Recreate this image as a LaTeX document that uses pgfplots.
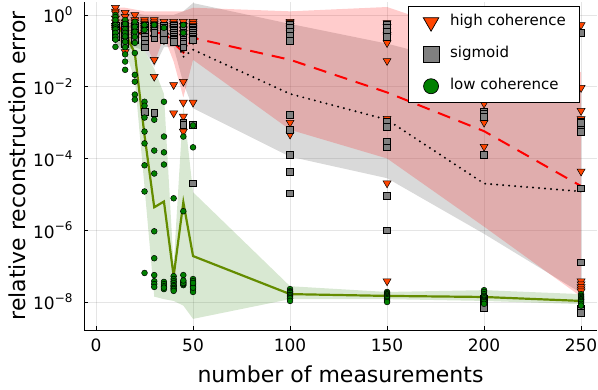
\documentclass[border=0pt]{standalone}
\usepackage{fontspec}
\setmainfont{DejaVu Sans}
\usepackage{pgfplots}
\pgfplotsset{compat=1.18}
\usepgfplotslibrary{fillbetween}
\definecolor{hcol}{RGB}{255,69,0}
\definecolor{scol}{RGB}{128,128,128}
\definecolor{lcol}{RGB}{0,128,0}
\definecolor{gline}{RGB}{100,140,0}
\definecolor{gband}{RGB}{60,140,30}
\newcommand{\yl}[1]{10\raisebox{0.42em}{\fontsize{12bp}{12bp}\selectfont #1}}
\begin{document}
\begin{tikzpicture}
\begin{axis}[
  at={(0,0)}, anchor=south west,
  scale only axis, width=513bp, height=328bp,
  xmin=-6.2, xmax=258.2, ymin=-8.78, ymax=0.36,
  axis lines*=left,
  axis line style={line width=0.8bp, black},
  tick align=inside,
  major tick length=4bp,
  tick style={line width=0.6bp, black},
  xtick={0,50,100,150,200,250},
  xticklabels={0,50,100,150,200,250},
  ytick={-8,-6,-4,-2,0},
  yticklabels={\yl{−8},\yl{−6},\yl{−4},\yl{−2},\yl{0}},
  grid=major,
  major grid style={line width=0.8bp, black, opacity=0.1},
  ticklabel style={font=\fontsize{17bp}{20bp}\selectfont},
  xticklabel style={yshift=-5bp},
  yticklabel style={xshift=-8bp},
  xlabel={number of measurements},
  ylabel={relative reconstruction error},
  label style={font=\fontsize{22bp}{26bp}\selectfont},
  xlabel style={at={(axis description cs:0.5,0)}, anchor=base, yshift=-52bp},
  ylabel style={at={(axis description cs:-0.115,0.5)}, anchor=base},
  clip=false,
  legend image code/.code={\path[draw=none,fill=none] (-11bp,-9bp) rectangle (17bp,9bp); \draw[#1] plot coordinates {(0bp,0bp)};},
  legend cell align=left,
  legend style={at={(0.9669,0.988)}, anchor=north east, draw=black, line width=0.6bp, fill=white,
    font=\fontsize{15bp}{18bp}\selectfont, inner xsep=12bp, inner ysep=7bp, row sep=14bp,
    nodes={inner ysep=0bp, text height=9bp, text depth=3bp}},
]
% ---------- bands ----------
\pgfplotstableread{
x    gu     gl     ru     rl     su     sl
10   -0.10  -0.75  0.20   -0.60  0.10   -0.90
15   -0.15  -1.00  0.20   -0.90  0.10   -1.00
20   -0.45  -1.80  0.15   -0.60  0.05   -0.90
25   -1.00  -4.80  0.10   -0.70  0.00   -1.00
30   -1.50  -7.85  0.10   -1.35  0.00   -1.45
35   -2.20  -7.92  0.10   -0.60  0.00   -0.90
40   -7.00  -7.97  0.10   -1.30  0.00   -0.90
45   -2.50  -8.10  0.10   -2.30  0.10   -1.90
50   -4.94  -8.47  0.20   -1.25  0.33   -2.60
100  -7.56  -7.92  0.10   -3.20  -0.25  -3.95
150  -7.72  -7.92  0.22   -4.00  -0.80  -4.55
200  -7.67  -7.97  -0.70  -5.90  -1.50  -6.10
250  -7.78  -8.06  -1.60  -7.85  -2.00  -7.75
}\bands
\addplot[draw=none, name path=su, forget plot] table[x=x,y=su] {\bands};
\addplot[draw=none, name path=sl, forget plot] table[x=x,y=sl] {\bands};
\addplot[fill=scol, fill opacity=0.3, draw=none, forget plot] fill between[of=su and sl];
\addplot[draw=none, name path=ru, forget plot] table[x=x,y=ru] {\bands};
\addplot[draw=none, name path=rl, forget plot] table[x=x,y=rl] {\bands};
\addplot[fill=red, fill opacity=0.2, draw=none, forget plot] fill between[of=ru and rl];
\addplot[draw=none, name path=gu, forget plot] table[x=x,y=gu] {\bands};
\addplot[draw=none, name path=gl, forget plot] table[x=x,y=gl] {\bands};
\addplot[fill=gband, fill opacity=0.2, draw=none, forget plot] fill between[of=gu and gl];
% ---------- legend entries ----------
\addlegendimage{only marks, mark=triangle*, mark size=9bp, mark options={rotate=180, fill=hcol, draw=black, line width=0.7bp}}
\addlegendentry{high coherence}
\addlegendimage{only marks, mark=square*, mark size=8bp, mark options={fill=scol, draw=black, line width=0.7bp}}
\addlegendentry{sigmoid}
\addlegendimage{only marks, mark=*, mark size=7.5bp, mark options={fill=lcol, draw=black, line width=0.7bp}}
\addlegendentry{low coherence}
% ---------- high coherence ----------
\addplot[only marks, forget plot, mark=triangle*, mark size=4.6bp, mark options={rotate=180, fill=hcol, draw=black, line width=0.5bp}] coordinates {
(10,0.2)(10,0.1)(10,0.05)(10,-0.1)(10,-0.2)(10,-0.3)(10,-0.3)(10,-0.35)(10,-0.4)(10,-0.45)
(15,0.06)(15,-0.05)(15,-0.2)(15,-0.3)(15,-0.4)(15,-0.5)(15,-0.6)(15,-0.7)(15,-0.89)(15,-1.03)
(20,0.0)(20,-0.14)(20,-0.2)(20,-0.3)(20,-0.35)(20,-0.4)(20,-0.5)(20,-0.55)(20,-0.6)(20,-0.7)
(25,-0.14)(25,-0.2)(25,-0.25)(25,-0.3)(25,-0.35)(25,-0.4)(25,-0.45)(25,-0.5)(25,-0.55)(25,-0.6)
(30,-0.14)(30,-0.2)(30,-0.25)(30,-0.3)(30,-0.35)(30,-0.4)(30,-0.45)(30,-0.5)(30,-1.25)(30,-1.72)
(35,-0.19)(35,-0.3)(35,-0.35)(35,-0.4)(35,-0.45)(35,-0.5)(35,-0.55)(35,-0.6)(35,-0.65)(35,-0.7)
(40,-0.19)(40,-0.25)(40,-0.3)(40,-0.35)(40,-0.4)(40,-0.5)(40,-0.6)(40,-0.7)(40,-1.95)(40,-2.74)
(45,-0.19)(45,-0.3)(45,-0.4)(45,-0.5)(45,-0.6)(45,-0.92)(45,-1.86)(45,-2.44)(45,-2.83)(45,-3.25)
(50,-0.19)(50,-0.25)(50,-0.3)(50,-0.35)(50,-0.4)(50,-0.45)(50,-0.5)(50,-0.6)(50,-0.7)(50,-2.44)
(100,-0.19)(100,-0.22)(100,-0.25)(100,-0.3)(100,-0.35)(100,-0.4)(100,-0.45)(100,-0.5)(100,-3.0)(100,-3.33)
(150,-0.22)(150,-0.33)(150,-0.45)(150,-0.55)(150,-0.6)(150,-0.78)(150,-1.28)(150,-2.89)(150,-4.69)(150,-7.42)
(200,-0.6)(200,-1.0)(200,-1.4)(200,-1.8)(200,-2.1)(200,-2.3)(200,-2.47)(200,-3.0)(200,-3.67)(200,-1.9)
(250,-0.28)(250,-2.03)(250,-2.67)(250,-2.9)(250,-4.36)(250,-7.42)(250,-7.5)(250,-7.58)(250,-7.64)(250,-7.7)
};
% ---------- sigmoid ----------
\addplot[only marks, forget plot, mark=square*, mark size=3.4bp, mark options={fill=scol, draw=black, line width=0.5bp}] coordinates {
(10,-0.3)(10,-0.35)(10,-0.4)(10,-0.45)(10,-0.5)(10,-0.55)(10,-0.4)(10,-0.45)(10,-0.5)(10,-0.6)
(15,-0.3)(15,-0.35)(15,-0.4)(15,-0.45)(15,-0.5)(15,-0.6)(15,-0.7)(15,-0.75)(15,-0.8)(15,-0.4)
(20,-0.3)(20,-0.35)(20,-0.4)(20,-0.45)(20,-0.5)(20,-0.55)(20,-0.6)(20,-0.65)(20,-0.7)(20,-0.5)
(25,-0.3)(25,-0.35)(25,-0.4)(25,-0.45)(25,-0.5)(25,-0.6)(25,-0.7)(25,-0.8)(25,-0.9)(25,-2.69)
(30,-0.3)(30,-0.35)(30,-0.4)(30,-0.45)(30,-0.5)(30,-0.55)(30,-0.6)(30,-0.65)(30,-0.5)(30,-2.72)
(35,-0.3)(35,-0.35)(35,-0.4)(35,-0.45)(35,-0.5)(35,-0.55)(35,-0.6)(35,-0.65)(35,-0.7)(35,-0.5)
(40,-0.3)(40,-0.35)(40,-0.4)(40,-0.45)(40,-0.5)(40,-0.55)(40,-0.6)(40,-0.65)(40,-0.7)(40,-0.75)
(45,-0.3)(45,-0.4)(45,-0.5)(45,-0.6)(45,-0.7)(45,-0.75)(45,-0.8)(45,-0.9)(45,-3.0)(45,-3.06)
(50,-0.35)(50,-0.4)(50,-0.45)(50,-0.5)(50,-0.55)(50,-0.6)(50,-0.65)(50,-0.7)(50,-3.06)(50,-4.69)
(100,-0.28)(100,-0.36)(100,-0.47)(100,-0.58)(100,-0.72)(100,-2.78)(100,-3.19)(100,-3.89)(100,-4.36)(100,-4.97)
(150,-0.28)(150,-0.36)(150,-0.47)(150,-0.6)(150,-2.97)(150,-3.11)(150,-3.53)(150,-3.69)(150,-5.03)(150,-6.0)
(200,-0.5)(200,-1.0)(200,-2.69)(200,-2.75)(200,-2.83)(200,-3.89)(200,-7.9)(200,-8.0)(200,-8.1)(200,-8.15)
(250,-0.5)(250,-2.97)(250,-3.11)(250,-3.25)(250,-3.0)(250,-4.83)(250,-6.89)(250,-8.19)(250,-8.25)(250,-8.3)
};
% ---------- low coherence ----------
\addplot[only marks, forget plot, mark=*, mark size=2.9bp, mark options={fill=lcol, draw=black, line width=0.5bp}] coordinates {
(10,0)(10,-0.06)(10,-0.14)(10,-0.28)(10,-0.35)(10,-0.4)(10,-0.5)(10,-0.61)(10,-0.69)(10,-0.89)
(15,-0.14)(15,-0.25)(15,-0.4)(15,-0.5)(15,-0.6)(15,-0.75)(15,-0.9)(15,-1.1)(15,-1.3)(15,-1.53)
(20,-0.19)(20,-0.33)(20,-0.47)(20,-0.61)(20,-0.78)(20,-1.06)(20,-1.67)(20,-1.86)(20,-2.22)(20,-2.36)
(25,-0.28)(25,-0.42)(25,-2.42)(25,-2.53)(25,-2.86)(25,-3.25)(25,-3.58)(25,-4.19)(25,-4.92)(25,-7.19)
(30,-0.28)(30,-2.92)(30,-3.78)(30,-4.42)(30,-6.03)(30,-6.78)(30,-7.25)(30,-7.42)(30,-7.5)(30,-7.58)
(35,-0.36)(35,-2.42)(35,-3.39)(35,-3.83)(35,-4.17)(35,-7.44)(35,-7.5)(35,-7.56)(35,-7.64)(35,-7.6)
(40,-5.11)(40,-7.28)(40,-7.36)(40,-7.42)(40,-7.47)(40,-7.53)(40,-7.56)(40,-7.61)(40,-7.64)(40,-7.69)
(45,-0.28)(45,-0.5)(45,-3.39)(45,-5.47)(45,-7.25)(45,-7.44)(45,-7.53)(45,-7.5)(45,-7.47)(45,-7.4)
(50,-3.08)(50,-3.69)(50,-7.36)(50,-7.42)(50,-7.5)(50,-7.56)(50,-7.64)(50,-7.72)(50,-7.6)(50,-7.47)
(100,-7.64)(100,-7.7)(100,-7.72)(100,-7.75)(100,-7.8)(100,-7.81)(100,-7.85)(100,-7.89)(100,-7.9)(100,-7.97)
(150,-7.72)(150,-7.75)(150,-7.78)(150,-7.8)(150,-7.83)(150,-7.86)(150,-7.89)(150,-7.92)(150,-7.97)(150,-8.0)
(200,-7.67)(200,-7.72)(200,-7.78)(200,-7.83)(200,-7.86)(200,-7.9)(200,-7.94)(200,-7.97)(200,-8.0)(200,-8.05)
(250,-7.78)(250,-7.83)(250,-7.86)(250,-7.89)(250,-7.92)(250,-7.94)(250,-7.97)(250,-8.0)(250,-8.05)(250,-8.1)
};
% ---------- mean lines ----------
\pgfplotstableread{
x    gm     rm     sm
10   -0.40  -0.30  -0.40
15   -0.50  -0.45  -0.45
20   -1.07  -0.50  -0.50
25   -3.36  -0.50  -0.55
30   -5.36  -0.50  -0.60
35   -5.20  -0.50  -0.50
40   -7.28  -0.78  -0.56
45   -5.22  -1.05  -1.17
50   -6.72  -0.64  -0.97
100  -7.78  -1.25  -2.20
150  -7.83  -2.16  -2.92
200  -7.86  -3.24  -4.70
250  -7.97  -4.77  -4.92
}\means
\addplot[forget plot, red, line width=2bp, dash pattern=on 13bp off 9bp] table[x=x,y=rm] {\means};
\addplot[forget plot, black, line width=2.2bp, line cap=round, dash pattern=on 0bp off 6bp] table[x=x,y=sm] {\means};
\addplot[forget plot, gline, line width=2.2bp] table[x=x,y=gm] {\means};
\end{axis}
\pgfresetboundingbox
\path (-84bp,-60bp) rectangle (514bp,330bp);
\end{tikzpicture}
\end{document}
